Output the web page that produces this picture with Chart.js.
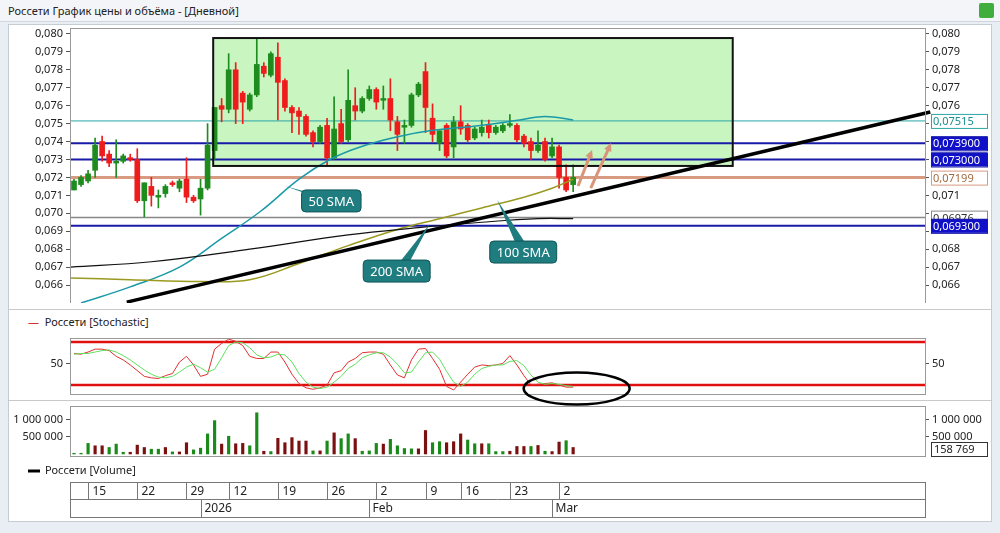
<!DOCTYPE html>
<html>
<head>
<meta charset="utf-8">
<script src="https://cdn.jsdelivr.net/npm/chart.js@4/dist/chart.umd.min.js"></script>
<style>
  body { margin: 0; background: #fff; font-family: "Noto Sans", sans-serif; }
  #wrap { position: relative; width: 1000px; height: 533px; background: #e9eef4; overflow: hidden; }
  #title { position: absolute; left: 0; top: 0; width: 1000px; height: 22px; background: #f3f5f8; border-bottom: 1px solid #cfd6df; font-size: 11px; line-height: 22px; color: #222; padding-left: 8px; box-sizing: border-box; }
  #icon { position: absolute; right: 6px; top: 3px; width: 15px; height: 15px; background: #3fae3f; border-radius: 2px; }
  #panel { position: absolute; left: 8px; top: 24px; width: 982px; height: 496px; background: #fff; border: 1px solid #c6ccd4; }
  canvas { position: absolute; left: 0; }
  .legend { position: absolute; left: 28px; font-size: 11px; color: #222; }
  .sep { position: absolute; left: 8px; width: 984px; height: 1px; background: #c9c9c9; }
</style>
</head>
<body>
<div id="wrap">
  <div id="title">Россети График цены и объёма - [Дневной]<div id="icon"></div></div>
  <div id="panel"></div>
  <div class="sep" style="top:309px"></div>
  <div class="sep" style="top:400px"></div>
  <div class="legend" style="top:314px"><span style="color:#d03030">—</span>&nbsp; Россети [Stochastic]</div>
  <canvas id="price" width="1000" height="275" style="top:28px"></canvas>
  <canvas id="stoch" width="1000" height="70" style="top:338px"></canvas>
  <canvas id="vol" width="1000" height="114" style="top:406px"></canvas>
</div>
<script>
// Candles (daily), index 0..71
const opens  = [.0713,.0716,.0718,.0724,.0740,.0733,.0728,.0729,.0731,.0730,.0707,.0715,.0709,.0711,.0717,.0714,.0719,.0709,.0708,.0714,.0735,.0760,.0758,.0780,.0767,.0758,.0766,.0782,.0777,.0787,.0774,.0759,.0757,.0754,.0745,.0740,.0749,.0731,.0750,.0741,.0760,.0757,.0764,.0769,.0763,.0764,.0751,.0748,.0749,.0766,.0779,.0753,.0739,.0749,.0737,.0751,.0749,.0742,.0745,.0749,.0745,.0746,.0749,.0749,.0743,.0740,.0735,.0740,.0732,.0737,.0720,.0716];
const highs  = [.0719,.0721,.0724,.0742,.0743,.0735,.0741,.0733,.0733,.0736,.0717,.0720,.0713,.0716,.0718,.0719,.0731,.0710,.0719,.0750,.0759,.0764,.0789,.0784,.0768,.0767,.0797,.0784,.0790,.0795,.0775,.0760,.0759,.0755,.0746,.0749,.0753,.0765,.0758,.0780,.0770,.0765,.0771,.0770,.0771,.0775,.0754,.0752,.0767,.0773,.0784,.0761,.0746,.0750,.0754,.0760,.0750,.0748,.0752,.0752,.0749,.0750,.0755,.0750,.0744,.0742,.0746,.0742,.0742,.0738,.0727,.0727];
const lows   = [.0713,.0715,.0717,.0720,.0729,.0726,.0720,.0728,.0729,.0706,.0698,.0704,.0703,.0709,.0715,.0712,.0706,.0706,.0699,.0713,.0730,.0751,.0756,.0750,.0750,.0757,.0765,.0776,.0776,.0752,.0757,.0745,.0744,.0743,.0737,.0739,.0727,.0730,.0739,.0740,.0752,.0756,.0763,.0758,.0758,.0746,.0735,.0739,.0748,.0765,.0745,.0740,.0735,.0731,.0731,.0744,.0740,.0741,.0743,.0742,.0744,.0745,.0748,.0740,.0737,.0730,.0734,.0729,.0731,.0714,.0712,.0712];
const closes = [.0718,.0720,.0722,.0738,.0732,.0728,.0729,.0732,.0730,.0707,.0717,.0710,.0710,.0715,.0716,.0718,.0709,.0707,.0714,.0738,.0759,.0758,.0780,.0758,.0762,.0766,.0783,.0778,.0789,.0773,.0759,.0756,.0754,.0744,.0740,.0748,.0731,.0747,.0740,.0763,.0757,.0764,.0769,.0762,.0764,.0752,.0744,.0749,.0766,.0772,.0759,.0744,.0746,.0732,.0751,.0747,.0741,.0747,.0748,.0745,.0748,.0749,.0750,.0741,.0739,.0735,.0738,.0730,.0737,.0720,.0713,.0720];

// Moving averages (read at key candle indices)
const sma50Idx = [1, 8, 15, 21, 26.5, 32, 36.4, 40.7, 46.4, 50.6, 57.8, 63.4, 67, 71];
const sma50Val = [.0650, .0659, .0670, .0686, .0701, .0719, .0730, .0737, .0743, .0746, .0749, .0752, .0754, .0752];
const sma100Idx = [-0.5, 8, 18, 25, 32, 39, 46, 52, 58, 64, 68, 71];
const sma100Val = [.0664, .0663, .0662, .0663, .0672, .0682, .0691, .0697, .0703, .0709, .0714, .0719];
const sma200Idx = [-0.5, 11, 25, 39, 49, 58, 66, 71];
const sma200Val = [.0670, .0673, .0680, .0688, .0692, .0695, .0697, .0697];

// Stochastic %K / %D
const stochK = [64,63,66,70,70,68,60,55,48,40,32,30,29,33,36,52,60,48,32,35,70,78,84,81,75,60,57,57,66,66,52,35,22,16,14,16,20,37,40,52,57,65,66,66,63,48,34,30,55,70,71,57,42,18,13,24,35,45,48,47,48,50,61,48,33,20,21,22,23,20,17,17];
const stochD = [63,64,64,66,68,69,66,61,55,48,41,35,31,30,32,38,45,49,44,38,42,58,75,80,79,72,62,58,59,63,62,52,36,24,17,15,17,24,32,43,49,58,62,65,65,59,49,37,38,52,65,66,56,39,24,18,24,35,43,46,48,48,53,54,47,34,24,21,22,21,19,18];

// Volume
const volumes = [20,20,310,240,240,190,290,50,50,260,190,140,140,190,60,60,330,120,170,590,980,290,520,300,310,240,1210,80,70,460,330,480,380,380,90,90,380,620,450,590,450,80,90,310,290,430,240,160,150,150,690,330,360,330,360,590,410,300,300,300,70,70,80,220,220,220,250,80,70,350,390,190].map(v => v * 1000);
const volUp = 'gggrrgggrrrggrgrrggggrgrrggrgrrrrrgrgrggrgggrggggrrggrrrggrgggrrrgrgrrg';

// Levels and tick labels
const priceTicks = [.066,.067,.068,.069,.070,.071,.072,.073,.074,.075,.076,.077,.078,.079,.080];
const rightHidden = [.069,.070,.072,.073,.074,.075];
const levelVals   = [0.07515, 0.0739, 0.0730, 0.07199, 0.06976, 0.0693];
const levelLabels = ['0,07515', '0,073900', '0,073000', '0,07199', '0,06976', '0,069300'];
const levelColors = ['#2aa7a7', '#1a1aa8', '#1a1aa8', '#d89a80', '#888888', '#1a1aa8'];
const levelWidths = [1, 2, 2, 3, 1.5, 2];
const levelFilled = [false, true, true, false, false, true];

const boxIdx = [19.8, 93.7];
const boxPrice = [0.07977, 0.07264];
const trendIdx = [7.5, 121.8];
const trendPrice = [0.06505, 0.07565];
const calloutText = ['50 SMA', '200 SMA', '100 SMA'];
const calloutIdx = [36.6, 45.9, 63.9];
const calloutPrice = [0.07069, 0.06678, 0.06784];
const pointerIdx = [30.0, 50.6, 60.2];
const pointerPrice = [0.07152, 0.06940, 0.07074];
const arrowFrom = [[71.7, 0.07152], [73.5, 0.07141]];
const arrowTo = [[73.7, 0.07353], [76.4, 0.07392]];

const dateTickIdx = [-0.57, 2, 9, 16, 22, 29, 36, 43, 50, 55, 62, 69];
const dateTickLabels = ['', '15', '22', '29', '12', '19', '26', '2', '9', '16', '23', '2'];
const monthIdx = [-0.57, 18.1, 42, 68];
const monthLabels = ['', '2026', 'Feb', 'Mar'];

const X_MIN = -0.57, X_MAX = 121.05;
const FONT = { family: 'Noto Sans', size: 11 };
const GREEN = '#1e8c1e', RED = '#ee1c1c';

function fmtPrice(v) { return v.toFixed(3).replace('.', ','); }
function fmtVol(v) { return Math.round(v).toString().replace(/\B(?=(\d{3})+(?!\d))/g, ' '); }

function xAxis() {
  return { type: 'linear', min: X_MIN, max: X_MAX, offset: false, display: false };
}
function sideAxis(pos, width, ticks, cb) {
  return {
    position: pos,
    afterFit: s => { s.width = width; s.paddingTop = 0; s.paddingBottom = 0; },
    afterBuildTicks: s => { s.ticks = ticks.map(v => ({ value: v })); },
    grid: { drawOnChartArea: false, color: '#555', tickLength: 4 },
    border: { color: '#999' },
    ticks: { font: FONT, color: '#222', padding: 3, callback: cb }
  };
}

Chart.defaults.animation = false;
Chart.defaults.plugins.legend.display = false;
Chart.defaults.plugins.tooltip.enabled = false;

function frame(chart) {
  const a = chart.chartArea, c = chart.ctx;
  c.save();
  c.strokeStyle = '#999';
  c.lineWidth = 1;
  c.strokeRect(a.left + 0.5, a.top + 0.5, a.right - a.left, a.bottom - a.top);
  c.restore();
}

const pricePlugin = {
  id: 'pricePlugin',
  beforeDatasetsDraw(chart) {
    const { ctx, scales: { x, y }, chartArea: a } = chart;
    ctx.save();
    // green box
    const bx0 = x.getPixelForValue(boxIdx[0]), bx1 = x.getPixelForValue(boxIdx[1]);
    const by0 = y.getPixelForValue(boxPrice[0]), by1 = y.getPixelForValue(boxPrice[1]);
    ctx.fillStyle = '#c8f5c0';
    ctx.fillRect(bx0, by0, bx1 - bx0, by1 - by0);
    // levels
    levelVals.forEach((v, i) => {
      const py = y.getPixelForValue(v);
      ctx.strokeStyle = levelColors[i];
      ctx.lineWidth = levelWidths[i];
      ctx.beginPath(); ctx.moveTo(a.left, py); ctx.lineTo(a.right, py); ctx.stroke();
    });
    ctx.restore();
  },
  afterDatasetsDraw(chart) {
    const { ctx, scales: { x, y }, chartArea: a } = chart;
    ctx.save();
    const bx0 = x.getPixelForValue(boxIdx[0]), bx1 = x.getPixelForValue(boxIdx[1]);
    const by0 = y.getPixelForValue(boxPrice[0]), by1 = y.getPixelForValue(boxPrice[1]);
    ctx.strokeStyle = '#111'; ctx.lineWidth = 2;
    ctx.strokeRect(bx0, by0, bx1 - bx0, by1 - by0);

    // trend line
    ctx.save();
    ctx.beginPath(); ctx.rect(a.left, a.top, a.right - a.left + 6, a.bottom - a.top); ctx.clip();
    ctx.strokeStyle = '#000'; ctx.lineWidth = 3.5;
    ctx.beginPath();
    ctx.moveTo(x.getPixelForValue(trendIdx[0]), y.getPixelForValue(trendPrice[0]));
    ctx.lineTo(x.getPixelForValue(trendIdx[1]), y.getPixelForValue(trendPrice[1]));
    ctx.stroke();
    ctx.restore();

    // arrows
    ctx.strokeStyle = '#d8957a'; ctx.fillStyle = '#d8957a'; ctx.lineWidth = 3;
    arrowFrom.forEach((f, i) => {
      const x0 = x.getPixelForValue(f[0]), y0 = y.getPixelForValue(f[1]);
      const x1 = x.getPixelForValue(arrowTo[i][0]), y1 = y.getPixelForValue(arrowTo[i][1]);
      const ang = Math.atan2(y1 - y0, x1 - x0);
      ctx.beginPath(); ctx.moveTo(x0, y0); ctx.lineTo(x1 - 5 * Math.cos(ang), y1 - 5 * Math.sin(ang)); ctx.stroke();
      ctx.beginPath();
      ctx.moveTo(x1, y1);
      ctx.lineTo(x1 - 9 * Math.cos(ang - 0.45), y1 - 9 * Math.sin(ang - 0.45));
      ctx.lineTo(x1 - 9 * Math.cos(ang + 0.45), y1 - 9 * Math.sin(ang + 0.45));
      ctx.closePath(); ctx.fill();
    });

    // callouts
    ctx.font = '13px "Noto Sans"';
    calloutText.forEach((t, i) => {
      const cx = x.getPixelForValue(calloutIdx[i]), cy = y.getPixelForValue(calloutPrice[i]);
      const w = ctx.measureText(t).width + 14, h = 22;
      const px = x.getPixelForValue(pointerIdx[i]), py = y.getPixelForValue(pointerPrice[i]);
      ctx.fillStyle = '#1f7d80'; ctx.strokeStyle = '#0f5557'; ctx.lineWidth = 1;
      ctx.beginPath();
      ctx.moveTo(px, py);
      ctx.lineTo(cx - 4, cy); ctx.lineTo(cx + 8, cy);
      ctx.closePath(); ctx.fill();
      ctx.beginPath();
      ctx.roundRect(cx - w / 2, cy - h / 2, w, h, 4);
      ctx.fill(); ctx.stroke();
      ctx.fillStyle = '#fff'; ctx.textAlign = 'center'; ctx.textBaseline = 'middle';
      ctx.fillText(t, cx, cy + 1);
    });

    // value boxes on right axis
    ctx.font = '11px "Noto Sans"';
    ctx.textAlign = 'left';
    levelVals.forEach((v, i) => {
      const py = y.getPixelForValue(v);
      const bx = a.right + 6, w = 56, h = 14;
      ctx.fillStyle = levelFilled[i] ? '#1010c8' : '#fff';
      ctx.strokeStyle = levelColors[i];
      ctx.lineWidth = 1;
      ctx.fillRect(bx, py - h / 2, w, h);
      ctx.strokeRect(bx + 0.5, py - h / 2 + 0.5, w, h);
      ctx.fillStyle = levelFilled[i] ? '#fff' : (i === 0 ? '#1a8f8f' : (i === 3 ? '#a06a40' : '#333'));
      ctx.fillText(levelLabels[i], bx + 2, py + 1);
    });
    ctx.restore();
    frame(chart);
  }
};

new Chart(document.getElementById('price'), {
  type: 'bar',
  data: {
    datasets: [
      { type: 'line', data: sma200Idx.map((v, i) => ({ x: v, y: sma200Val[i] })), borderColor: '#111', borderWidth: 1.2, pointRadius: 0, tension: 0.4 },
      { type: 'line', data: sma100Idx.map((v, i) => ({ x: v, y: sma100Val[i] })), borderColor: '#9a9a20', borderWidth: 1.5, pointRadius: 0, tension: 0.4 },
      { type: 'line', data: sma50Idx.map((v, i) => ({ x: v, y: sma50Val[i] })), borderColor: '#1a9aa8', borderWidth: 1.5, pointRadius: 0, tension: 0.4 },
      {
        data: opens.map((o, i) => ({ x: i, y: [lows[i], highs[i]] })),
        backgroundColor: opens.map((o, i) => closes[i] >= o ? GREEN : RED),
        barThickness: 1, grouped: false
      },
      {
        data: opens.map((o, i) => ({ x: i, y: [o, closes[i]] })),
        backgroundColor: opens.map((o, i) => closes[i] >= o ? GREEN : RED),
        barThickness: 5, minBarLength: 1.5, grouped: false
      }
    ]
  },
  options: {
    responsive: false,
    layout: { padding: 0 },
    scales: {
      x: xAxis(),
      y: Object.assign(sideAxis('left', 70, priceTicks, v => fmtPrice(v)), { min: 0.0650, max: 0.08033 }),
      y2: Object.assign(sideAxis('right', 75, priceTicks, v => rightHidden.some(h => Math.abs(h - v) < 1e-6) ? '' : fmtPrice(v)), { min: 0.0650, max: 0.08033 })
    }
  },
  plugins: [pricePlugin]
});

const stochPlugin = {
  id: 'stochPlugin',
  beforeDatasetsDraw(chart) {
    const { ctx, scales: { y }, chartArea: a } = chart;
    ctx.save();
    ctx.strokeStyle = '#e01010'; ctx.lineWidth = 2.5;
    [80, 20].forEach(v => {
      const py = y.getPixelForValue(v);
      ctx.beginPath(); ctx.moveTo(a.left, py); ctx.lineTo(a.right, py); ctx.stroke();
    });
    ctx.restore();
  },
  afterDatasetsDraw(chart) {
    const { ctx, scales: { x, y } } = chart;
    frame(chart);
    ctx.save();
    ctx.strokeStyle = '#000'; ctx.lineWidth = 2.5;
    ctx.beginPath();
    ctx.ellipse(x.getPixelForValue(71.5), y.getPixelForValue(15), 53, 16, 0, 0, Math.PI * 2);
    ctx.stroke();
    ctx.restore();
  }
};

new Chart(document.getElementById('stoch'), {
  type: 'line',
  data: {
    datasets: [
      { data: stochD.map((v, i) => ({ x: i, y: v })), borderColor: '#5ee05e', borderWidth: 1, pointRadius: 0 },
      { data: stochK.map((v, i) => ({ x: i, y: v })), borderColor: '#e03030', borderWidth: 1, pointRadius: 0 }
    ]
  },
  options: {
    responsive: false,
    clip: false,
    layout: { padding: { top: 0, bottom: 14 } },
    scales: {
      x: xAxis(),
      y: Object.assign(sideAxis('left', 70, [50], v => v), { min: 7.4, max: 85.6 }),
      y2: Object.assign(sideAxis('right', 75, [50], v => v), { min: 7.4, max: 85.6 })
    }
  },
  plugins: [stochPlugin]
});

const volPlugin = {
  id: 'volPlugin',
  afterDraw(chart) {
    const { ctx, scales: { x }, chartArea: a } = chart;
    frame(chart);
    ctx.save();
    // last volume box
    ctx.font = '11px "Noto Sans"';
    ctx.fillStyle = '#fff'; ctx.strokeStyle = '#333';
    ctx.fillRect(a.right + 6, a.bottom - 14, 56, 14);
    ctx.strokeRect(a.right + 6.5, a.bottom - 13.5, 56, 14);
    ctx.fillStyle = '#222'; ctx.textBaseline = 'middle';
    ctx.fillText(fmtVol(158769), a.right + 9, a.bottom - 6);
    // legend
    ctx.strokeStyle = '#000'; ctx.lineWidth = 3;
    ctx.beginPath(); ctx.moveTo(28, a.bottom + 15); ctx.lineTo(40, a.bottom + 15); ctx.stroke();
    ctx.fillText('Россети [Volume]', 45, a.bottom + 15);
    // date rows
    const r0 = a.bottom + 26, r1 = r0 + 17, r2 = r1 + 18;
    ctx.strokeStyle = '#777'; ctx.lineWidth = 1;
    ctx.strokeRect(a.left + 0.5, r0 + 0.5, a.right - a.left, r2 - r0);
    ctx.beginPath(); ctx.moveTo(a.left, r1 + 0.5); ctx.lineTo(a.right, r1 + 0.5); ctx.stroke();
    ctx.font = '12px "Noto Sans"';
    dateTickIdx.forEach((v, i) => {
      const px = Math.round(x.getPixelForValue(v)) + 0.5;
      ctx.beginPath(); ctx.moveTo(px, r0); ctx.lineTo(px, r1); ctx.stroke();
      ctx.fillText(dateTickLabels[i], px + 4, (r0 + r1) / 2 + 1);
    });
    monthIdx.forEach((v, i) => {
      const px = Math.round(x.getPixelForValue(v)) + 0.5;
      ctx.beginPath(); ctx.moveTo(px, r1); ctx.lineTo(px, r2); ctx.stroke();
      ctx.fillText(monthLabels[i], px + 3, (r1 + r2) / 2 + 1);
    });
    ctx.restore();
  }
};

new Chart(document.getElementById('vol'), {
  type: 'bar',
  data: {
    datasets: [{
      data: volumes.map((v, i) => ({ x: i, y: v })),
      backgroundColor: volumes.map((v, i) => volUp[i] === 'g' ? '#1a8a1a' : '#7a1010'),
      barThickness: 2.5
    }]
  },
  options: {
    responsive: false,
    layout: { padding: { top: 0, bottom: 64 } },
    scales: {
      x: xAxis(),
      y: Object.assign(sideAxis('left', 70, [500000, 1000000], v => fmtVol(v)), { min: -60000, max: 1410000 }),
      y2: Object.assign(sideAxis('right', 75, [500000, 1000000], v => fmtVol(v)), { min: -60000, max: 1410000 })
    }
  },
  plugins: [volPlugin]
});
</script>
</body>
</html>
